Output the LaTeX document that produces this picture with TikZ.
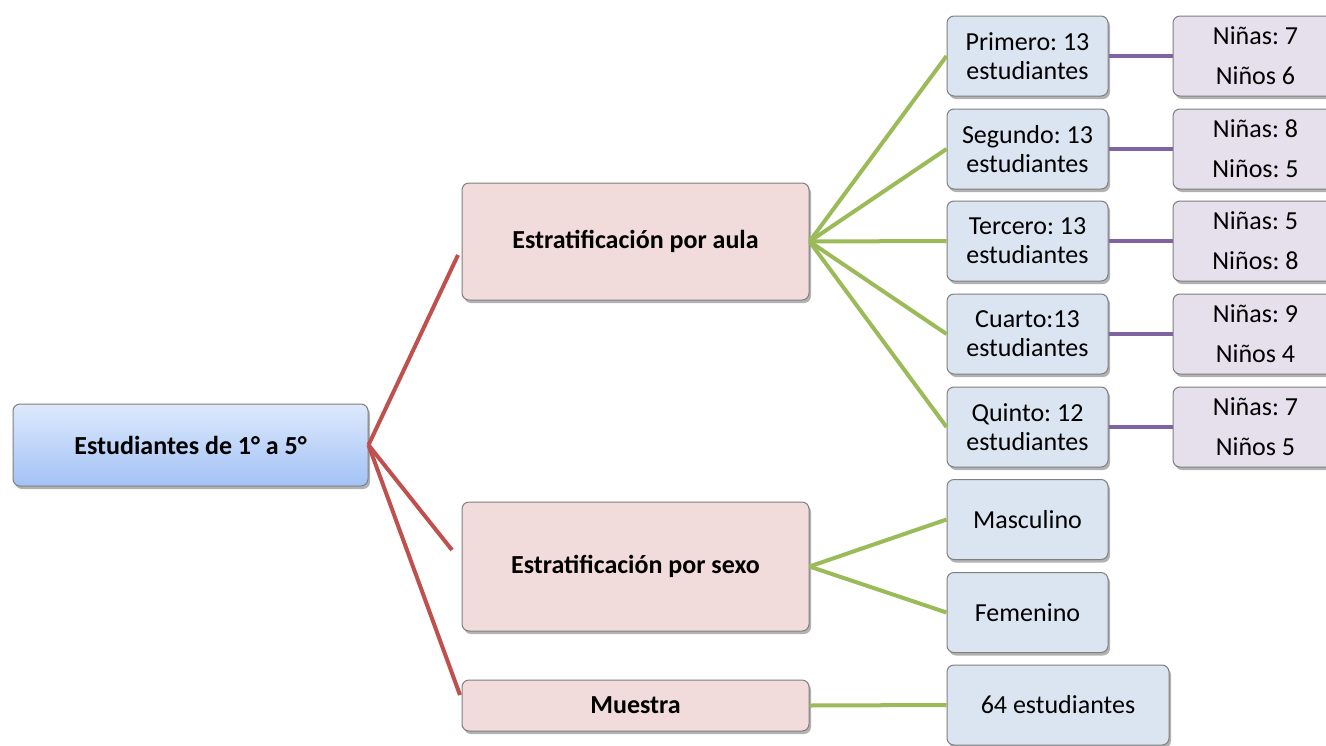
\documentclass[tikz,border=0pt]{standalone}
\usepackage{fontspec}
\setmainfont{Carlito}
\usetikzlibrary{shadows}
\frenchspacing
\definecolor{rootTop}{HTML}{DDE9FC}
\definecolor{rootBot}{HTML}{A3C2F5}
\definecolor{pinkFill}{HTML}{F2DCDB}
\definecolor{blueFill}{HTML}{DBE5F1}
\definecolor{purpFill}{HTML}{E5E0EC}
\definecolor{boxBorder}{HTML}{7F7F7F}
\definecolor{redLine}{HTML}{C0504D}
\definecolor{greenLine}{HTML}{9BBB59}
\definecolor{purpLine}{HTML}{8064A2}
\begin{document}
\frenchspacing
\begin{tikzpicture}[x=1pt,y=-1pt,
  box/.style={draw=boxBorder, line width=1pt, rounded corners=7pt, inner sep=2pt, align=center,
    font=\fontsize{26}{29}\selectfont,
    drop shadow={opacity=0.3, shadow xshift=2pt, shadow yshift=-3pt, fill=black}},
  rootbox/.style={box, top color=rootTop, bottom color=rootBot, font=\fontsize{26}{29}\selectfont\bfseries},
  pinkbox/.style={box, fill=pinkFill, minimum width=347pt, font=\fontsize{26}{29}\selectfont\bfseries},
  bluebox/.style={box, fill=blueFill, minimum width=161pt, minimum height=80pt},
  purpbox/.style={box, fill=purpFill, minimum width=165pt, minimum height=80pt, font=\fontsize{26}{40}\selectfont},
  redc/.style={draw=redLine, line width=4pt},
  greenc/.style={draw=greenLine, line width=4pt},
  purpc/.style={draw=purpLine, line width=4pt}]
\useasboundingbox (0,0) rectangle (1326,745);
\clip (0,0) rectangle (1326,745);
\fill[white] (0,0) rectangle (1326,745);

% root
\node[rootbox, minimum width=355pt, minimum height=82pt] (root) at (190.5,445) {Estudiantes de 1° a 5°};

% level 2
\node[pinkbox, minimum height=117pt] (aula) at (635.5,241.5) {Estratificación por aula};
\node[pinkbox, minimum height=129pt] (sexo) at (635.5,566.5) {Estratificación por sexo};
\node[pinkbox, minimum height=51pt] (muestra) at (635.5,705.5) {Muestra};

% level 3
\node[bluebox] (p1) at (1027.5,56) {Primero: 13\\estudiantes};
\node[bluebox] (p2) at (1027.5,149) {Segundo: 13\\estudiantes};
\node[bluebox] (p3) at (1027.5,241) {Tercero: 13\\estudiantes};
\node[bluebox] (p4) at (1027.5,334) {Cuarto:13\\estudiantes};
\node[bluebox] (p5) at (1027.5,427) {Quinto: 12\\estudiantes};
\node[bluebox] (masc) at (1027.5,519.5) {Masculino};
\node[bluebox] (fem) at (1027.5,612.5) {Femenino};
\node[bluebox, minimum width=222pt] (total) at (1058,705) {64 estudiantes};

% level 4
\node[purpbox] (n1) at (1255.5,56) {Niñas: 7\\Niños 6};
\node[purpbox] (n2) at (1255.5,149) {Niñas: 8\\Niños: 5};
\node[purpbox] (n3) at (1255.5,241) {Niñas: 5\\Niños: 8};
\node[purpbox] (n4) at (1255.5,334) {Niñas: 9\\Niños 4};
\node[purpbox] (n5) at (1255.5,427) {Niñas: 7\\Niños 5};

% connector end points
\coordinate (ra) at (458,255);
\coordinate (rs) at (452,550);
\coordinate (rm) at (460,695);

% red connectors
\draw[redc] (root.east) -- (ra);
\draw[redc] (root.east) -- (rs);
\draw[redc] (root.east) -- (rm);

% green connectors
\foreach \t in {p1,p2,p3,p4,p5}{\draw[greenc] (aula.east) -- (\t.west);}
\draw[greenc] (sexo.east) -- (masc.west);
\draw[greenc] (sexo.east) -- (fem.west);
\draw[greenc] (muestra.east) -- (total.west);

% purple connectors
\draw[purpc] (p1.east) -- (n1.west);
\draw[purpc] (p2.east) -- (n2.west);
\draw[purpc] (p3.east) -- (n3.west);
\draw[purpc] (p4.east) -- (n4.west);
\draw[purpc] (p5.east) -- (n5.west);
\end{tikzpicture}
\end{document}
